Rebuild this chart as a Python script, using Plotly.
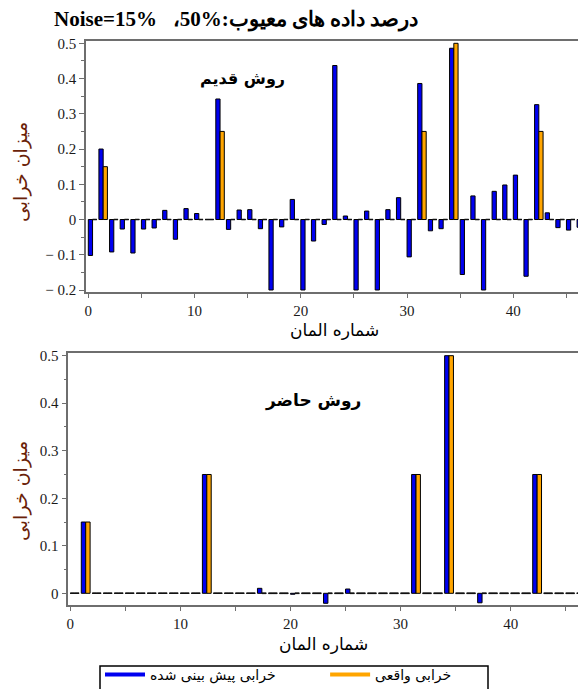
import plotly.graph_objects as go

# ---------------- data ----------------
elements = list(range(47))

old_predicted = [-0.102, 0.200, -0.092, -0.027, -0.095, -0.027, -0.024, 0.026, -0.056, 0.031,
                 0.017, 0.0, 0.342, -0.028, 0.027, 0.028, -0.026, -0.2, -0.021, 0.057,
                 -0.2, -0.061, -0.014, 0.437, 0.010, -0.2, 0.024, -0.2, 0.028, 0.062,
                 -0.106, 0.386, -0.032, -0.026, 0.486, -0.156, 0.067, -0.2, 0.080, 0.098,
                 0.126, -0.161, 0.326, 0.019, -0.023, -0.030, -0.022]

actual_damage = [0.0, 0.15, 0.0, 0.0, 0.0, 0.0, 0.0, 0.0, 0.0, 0.0,
                 0.0, 0.0, 0.25, 0.0, 0.0, 0.0, 0.0, 0.0, 0.0, 0.0,
                 0.0, 0.0, 0.0, 0.0, 0.0, 0.0, 0.0, 0.0, 0.0, 0.0,
                 0.0, 0.25, 0.0, 0.0, 0.5, 0.0, 0.0, 0.0, 0.0, 0.0,
                 0.0, 0.0, 0.25, 0.0, 0.0, 0.0, 0.0]

new_predicted = [0.0, 0.15, 0.0, 0.0, 0.0, 0.0, 0.0, 0.0, 0.0, 0.0,
                 0.0, 0.0, 0.25, 0.0, 0.0, 0.0, 0.0, 0.0105, 0.0, 0.0,
                 -0.002, 0.0, 0.0, -0.021, 0.0, 0.009, 0.0, 0.0, 0.0, 0.0,
                 0.0, 0.25, 0.0, 0.0, 0.5, 0.0, 0.0, -0.02, 0.0, 0.0,
                 0.0, 0.0, 0.25, 0.0, 0.0, 0.0, 0.0]

top_ytick_vals = [-0.2, -0.1, 0, 0.1, 0.2, 0.3, 0.4, 0.5]
top_ytick_text = ["\u2212 0.2", "\u2212 0.1", "0", "0.1", "0.2", "0.3", "0.4", "0.5"]
bot_ytick_vals = [0, 0.1, 0.2, 0.3, 0.4, 0.5]
bot_ytick_text = ["0", "0.1", "0.2", "0.3", "0.4", "0.5"]

name_pred = "خرابی پیش بینی شده"
name_actual = "خرابی واقعی"
title_text = "Noise=15%\u00a0\u00a0\u00a0\u060c50%:درصد داده های معیوب"
label_old = "روش قدیم"
label_new = "روش حاضر"
x_title = "شماره المان"
y_title = "میزان خرابی"

# ---------------- styling ----------------
WIN_W, WIN_H = 586, 689
OFF = 8                      # default page body margin
W, H = WIN_W - OFF, WIN_H - OFF
BLUE = "#0000F0"
ORANGE = "#FFA500"
BAR_W = 0.4
AX_COLOR = "#6e6e6e"
SERIF = "Liberation Serif, DejaVu Serif, serif"
FA = "DejaVu Sans, sans-serif"


def px_x(p):
    return (p - OFF) / W


def px_y(p):
    return 1 - (p - OFF) / H


def zero_segments(idx, vals, off):
    xs, ys = [], []
    for i, v in zip(idx, vals):
        if v == 0:
            xs += [i + off, i + off + BAR_W, None]
            ys += [0, 0, None]
    return xs, ys


fig = go.Figure()

panels = [
    (old_predicted, actual_damage, "x", "y"),
    (new_predicted, actual_damage, "x2", "y2"),
]
for pred, act, xa, ya in panels:
    for vals, color, off in ((pred, BLUE, 0.0), (act, ORANGE, BAR_W)):
        fig.add_trace(go.Bar(
            x=elements, y=vals, width=BAR_W, offset=off,
            marker=dict(color=color, line=dict(color="black", width=1)),
            showlegend=False, xaxis=xa, yaxis=ya))
        zx, zy = zero_segments(elements, vals, off)
        fig.add_trace(go.Scatter(
            x=zx, y=zy, mode="lines", line=dict(color="#111111", width=1.6),
            showlegend=False, hoverinfo="skip", xaxis=xa, yaxis=ya))

# legend entries (line swatches)
pad = "\u00a0"
fig.add_trace(go.Scatter(x=[None], y=[None], mode="lines", name=name_pred + pad * 10,
                         line=dict(color=BLUE, width=4), xaxis="x2", yaxis="y2"))
fig.add_trace(go.Scatter(x=[None], y=[None], mode="lines", name=name_actual,
                         line=dict(color=ORANGE, width=4), xaxis="x2", yaxis="y2"))

tickfont = dict(family=SERIF, size=15, color="#1a1a1a")


def xaxis_cfg(dom_left_px, x_at_left, anchor):
    return dict(
        domain=[px_x(dom_left_px), 1], range=[x_at_left, 46.84], anchor=anchor,
        showline=True, linecolor=AX_COLOR, linewidth=1.6, mirror=True,
        ticks="outside", ticklen=4, tickcolor=AX_COLOR, tickwidth=1.3,
        tick0=0, dtick=10, tickfont=tickfont,
        minor=dict(dtick=5, tick0=0, ticks="outside", ticklen=4, tickcolor=AX_COLOR, tickwidth=1.3),
        showgrid=False, zeroline=False, fixedrange=True)


def yaxis_cfg(top_px, bot_px, rng, vals, text, anchor):
    return dict(
        domain=[px_y(bot_px), px_y(top_px)], range=rng, anchor=anchor,
        showline=True, linecolor=AX_COLOR, linewidth=1.6,
        ticks="outside", ticklen=5, tickcolor=AX_COLOR, tickwidth=1.3,
        tickvals=vals, ticktext=text, tickfont=tickfont,
        minor=dict(dtick=0.05, tick0=0, ticks="outside", ticklen=3, tickcolor=AX_COLOR, tickwidth=1.2),
        showgrid=False, zeroline=False, fixedrange=True)


def note(text, x, y, font, angle=0):
    return dict(text=text, x=px_x(x), y=px_y(y), xref="paper", yref="paper",
                xanchor="center", yanchor="middle", textangle=angle,
                showarrow=False, font=font)


annotations = [
    note(title_text, 236, 19, dict(family=SERIF, size=21, color="black", weight="bold")),
    note(label_old, 242, 78, dict(family=FA, size=16, color="black", weight="bold")),
    note(label_new, 313, 400, dict(family=FA, size=17, color="black", weight="bold")),
    note(x_title, 334, 330, dict(family=FA, size=17, color="black")),
    note(x_title, 323, 644, dict(family=FA, size=17, color="black")),
    note(y_title, 20, 172, dict(family=FA, size=19, color="#6a2208"), -90),
    note(y_title, 20, 491, dict(family=FA, size=19, color="#6a2208"), -90),
]

legend_box = dict(type="rect", xref="paper", yref="paper",
                  x0=px_x(100), x1=px_x(488), y0=px_y(700), y1=px_y(666),
                  line=dict(color="black", width=1.5), fillcolor="white", layer="below")

fig.update_layout(
    width=W, height=H,
    margin=dict(l=0, r=0, t=0, b=0, pad=0, autoexpand=False),
    paper_bgcolor="white", plot_bgcolor="white",
    barmode="overlay",
    xaxis=xaxis_cfg(86, -0.216, "y"),
    yaxis=yaxis_cfg(40.7, 291.7, [-0.2048, 0.5074], top_ytick_vals, top_ytick_text, "x"),
    xaxis2=xaxis_cfg(68.3, -0.18, "y2"),
    yaxis2=yaxis_cfg(353.3, 605, [-0.0246, 0.505], bot_ytick_vals, bot_ytick_text, "x2"),
    showlegend=True,
    legend=dict(orientation="h", x=px_x(100), y=px_y(659), xanchor="left", yanchor="top",
                xref="paper", yref="paper",
                borderwidth=0, bgcolor="rgba(0,0,0,0)",
                font=dict(family=FA, size=14, color="black"),
                itemwidth=40, tracegroupgap=0),
    shapes=[legend_box],
    annotations=annotations,
)

fig.write_html("out.html")
